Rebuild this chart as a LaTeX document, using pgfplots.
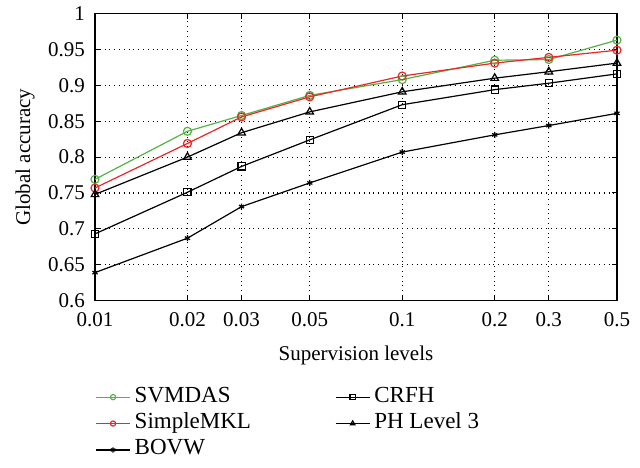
\documentclass[border=0pt]{standalone}
\usepackage{fontspec}
\setmainfont{Liberation Serif}
\usepackage{pgfplots}
\pgfplotsset{compat=1.18}
\usetikzlibrary{calc}

\definecolor{svgreen}{RGB}{86,178,70}
\definecolor{mklred}{RGB}{232,40,40}

\begin{document}
\begin{tikzpicture}
\begin{axis}[
  name=ax,
  scale only axis,
  width=261pt, height=143.5pt,
  xmode=log,
  xmin=0.01, xmax=0.5,
  ymin=0.6, ymax=1,
  xtick={0.01,0.02,0.03,0.05,0.1,0.2,0.3,0.5},
  xticklabels={0.01,0.02,0.03,0.05,0.1,0.2,0.3,0.5},
  minor xtick={},
  ytick={0.6,0.65,0.7,0.75,0.8,0.85,0.9,0.95,1},
  yticklabels={0.6,0.65,0.7,0.75,0.8,0.85,0.9,0.95,1},
  font=\fontsize{10.5}{12}\selectfont,
  /pgf/number format/assume math mode=true,
  xticklabel style={yshift=-2.5pt},
  yticklabel style={xshift=-1.5pt},
  tick align=inside,
  tick style={black, line width=0.5pt},
  major tick length=2.5pt,
  axis line style={line width=0.6pt},
  grid=major,
  major grid style={black, dotted, line width=0.6pt},
  xlabel={Supervision levels},
  ylabel={Global accuracy},
  xlabel style={at={(axis description cs:0.5,-0.19)}, anchor=center},
  ylabel style={at={(axis description cs:-0.134,0.5)}, anchor=center, rotate=0},
  every axis plot/.append style={line width=0.6pt},
  legend image code/.code={
    \draw[mark repeat=2, mark phase=2, mark size=1.3pt]
      plot coordinates {(0cm,0cm) (0.3cm,0cm) (0.6cm,0cm)};},
  legend columns=2,
  legend cell align=left,
  legend style={at={(axis description cs:0,-0.275)}, anchor=north west,
    draw=none, fill=none, inner xsep=0pt,
    font=\fontsize{11.5}{13}\selectfont,
    /tikz/every even column/.append style={column sep=40pt},
    nodes={text height=7.5pt, text depth=2.5pt, inner ysep=1.6pt}},
]
\addplot[svgreen, mark=o, mark size=2pt] coordinates {
  (0.01,0.769) (0.02,0.836) (0.03,0.858) (0.05,0.886)
  (0.1,0.908) (0.2,0.935) (0.3,0.936) (0.5,0.963)};
\addlegendentry{SVMDAS}
\addplot[black, mark=square, mark size=1.8pt] coordinates {
  (0.01,0.693) (0.02,0.751) (0.03,0.787) (0.05,0.824)
  (0.1,0.873) (0.2,0.894) (0.3,0.903) (0.5,0.916)};
\addlegendentry{CRFH}
\addplot[mklred, mark=o, mark size=2pt] coordinates {
  (0.01,0.757) (0.02,0.819) (0.03,0.856) (0.05,0.884)
  (0.1,0.913) (0.2,0.931) (0.3,0.939) (0.5,0.949)};
\addlegendentry{SimpleMKL}
\addplot[black, mark=triangle, mark size=2.2pt] coordinates {
  (0.01,0.748) (0.02,0.800) (0.03,0.834) (0.05,0.863)
  (0.1,0.891) (0.2,0.910) (0.3,0.919) (0.5,0.931)};
\addlegendentry{PH Level 3}
\addplot[black, mark=asterisk, mark size=1.5pt] coordinates {
  (0.01,0.639) (0.02,0.687) (0.03,0.731) (0.05,0.764)
  (0.1,0.807) (0.2,0.831) (0.3,0.844) (0.5,0.861)};
\addlegendentry{BOVW}
\end{axis}
\path ($(ax.south west)+(-47.5pt,-81pt)$) rectangle ($(ax.north east)+(11.5pt,5pt)$);
\end{tikzpicture}
\end{document}
